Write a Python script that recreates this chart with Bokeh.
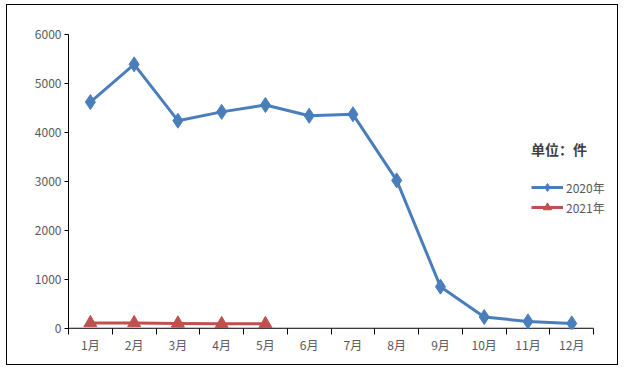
from bokeh.plotting import figure
from bokeh.models import FixedTicker, Range1d, Legend
from bokeh.embed import file_html
from bokeh.resources import INLINE

months = ["1月", "2月", "3月", "4月", "5月", "6月", "7月", "8月", "9月", "10月", "11月", "12月"]
y2020 = [4620, 5390, 4240, 4420, 4560, 4340, 4370, 3020, 850, 230, 140, 100]
y2021 = [110, 110, 100, 90, 90]
y_ticks = [0, 1000, 2000, 3000, 4000, 5000, 6000]

x_all = list(range(1, len(months) + 1))
x21 = x_all[:len(y2021)]

FONT = "Noto Sans CJK SC"
BLUE = "#4A7EBB"
RED = "#C0504D"
TXT = "#595959"

# frame extends right of the last category so the legend is not clipped
p = figure(width=612, height=361, output_backend="svg", toolbar_location=None,
           x_range=Range1d(0.5, 13.0), y_range=Range1d(-25, 6000),
           min_border_left=61, min_border_right=4, min_border_top=29, min_border_bottom=37,
           styles={"border": "1px solid black", "margin-left": "6px", "margin-top": "4px"})
p.outline_line_color = None
p.xgrid.visible = False
p.ygrid.visible = False

# y axis
p.yaxis.ticker = FixedTicker(ticks=y_ticks)
p.yaxis.axis_line_color = "black"
p.yaxis.major_tick_line_color = "black"
p.yaxis.major_tick_out = 4
p.yaxis.major_tick_in = 0
p.yaxis.minor_tick_line_color = None
p.yaxis.major_label_text_font = FONT
p.yaxis.major_label_text_font_size = "12px"
p.yaxis.major_label_text_color = TXT
p.yaxis.major_label_standoff = 3

# x axis: labels at centers, tick marks between categories
p.xaxis.ticker = FixedTicker(ticks=x_all, minor_ticks=[i + 0.5 for i in range(0, 13)])
p.xaxis.major_label_overrides = {i: m for i, m in zip(x_all, months)}
p.xaxis.axis_line_color = None
p.xaxis.major_tick_line_color = None
p.xaxis.major_tick_out = 3
p.xaxis.major_tick_in = 0
p.xaxis.minor_tick_line_color = "black"
p.xaxis.minor_tick_out = 5
p.xaxis.minor_tick_in = 1
p.xaxis.major_label_text_font = FONT
p.xaxis.major_label_text_font_size = "12px"
p.xaxis.major_label_text_color = TXT
p.xaxis.major_label_standoff = 1

# category axis baseline (0.5 .. 12.5 at value 0)
p.segment(x0=[x_all[0] - 0.5], y0=[0], x1=[x_all[-1] + 0.5], y1=[0], line_color="black", line_width=1)

l1 = p.line(x_all, y2020, line_color=BLUE, line_width=3)
s1 = p.scatter(x_all, y2020, marker="diamond", size=15, fill_color=BLUE, line_color=BLUE)
l2 = p.line(x21, y2021, line_color=RED, line_width=3)
s2 = p.scatter(x21, y2021, marker="triangle", size=13, fill_color=RED, line_color=RED)

legend = Legend(items=[("2020年", [l1, s1]), ("2021年", [l2, s2])],
                location=(463, 112), title="单位：件")
legend.title_text_font = FONT
legend.title_text_font_style = "bold"
legend.title_text_font_size = "14px"
legend.title_text_color = "#404040"
legend.title_standoff = 18
legend.label_text_font = FONT
legend.label_text_font_size = "12px"
legend.label_text_color = TXT
legend.border_line_color = None
legend.background_fill_alpha = 0
legend.padding = 0
legend.margin = 0
legend.spacing = 0
legend.glyph_width = 32
legend.glyph_height = 20
legend.label_standoff = 3
legend.label_height = 20
legend.label_width = 50
p.add_layout(legend)

open("out.html", "w").write(file_html(p, INLINE))
